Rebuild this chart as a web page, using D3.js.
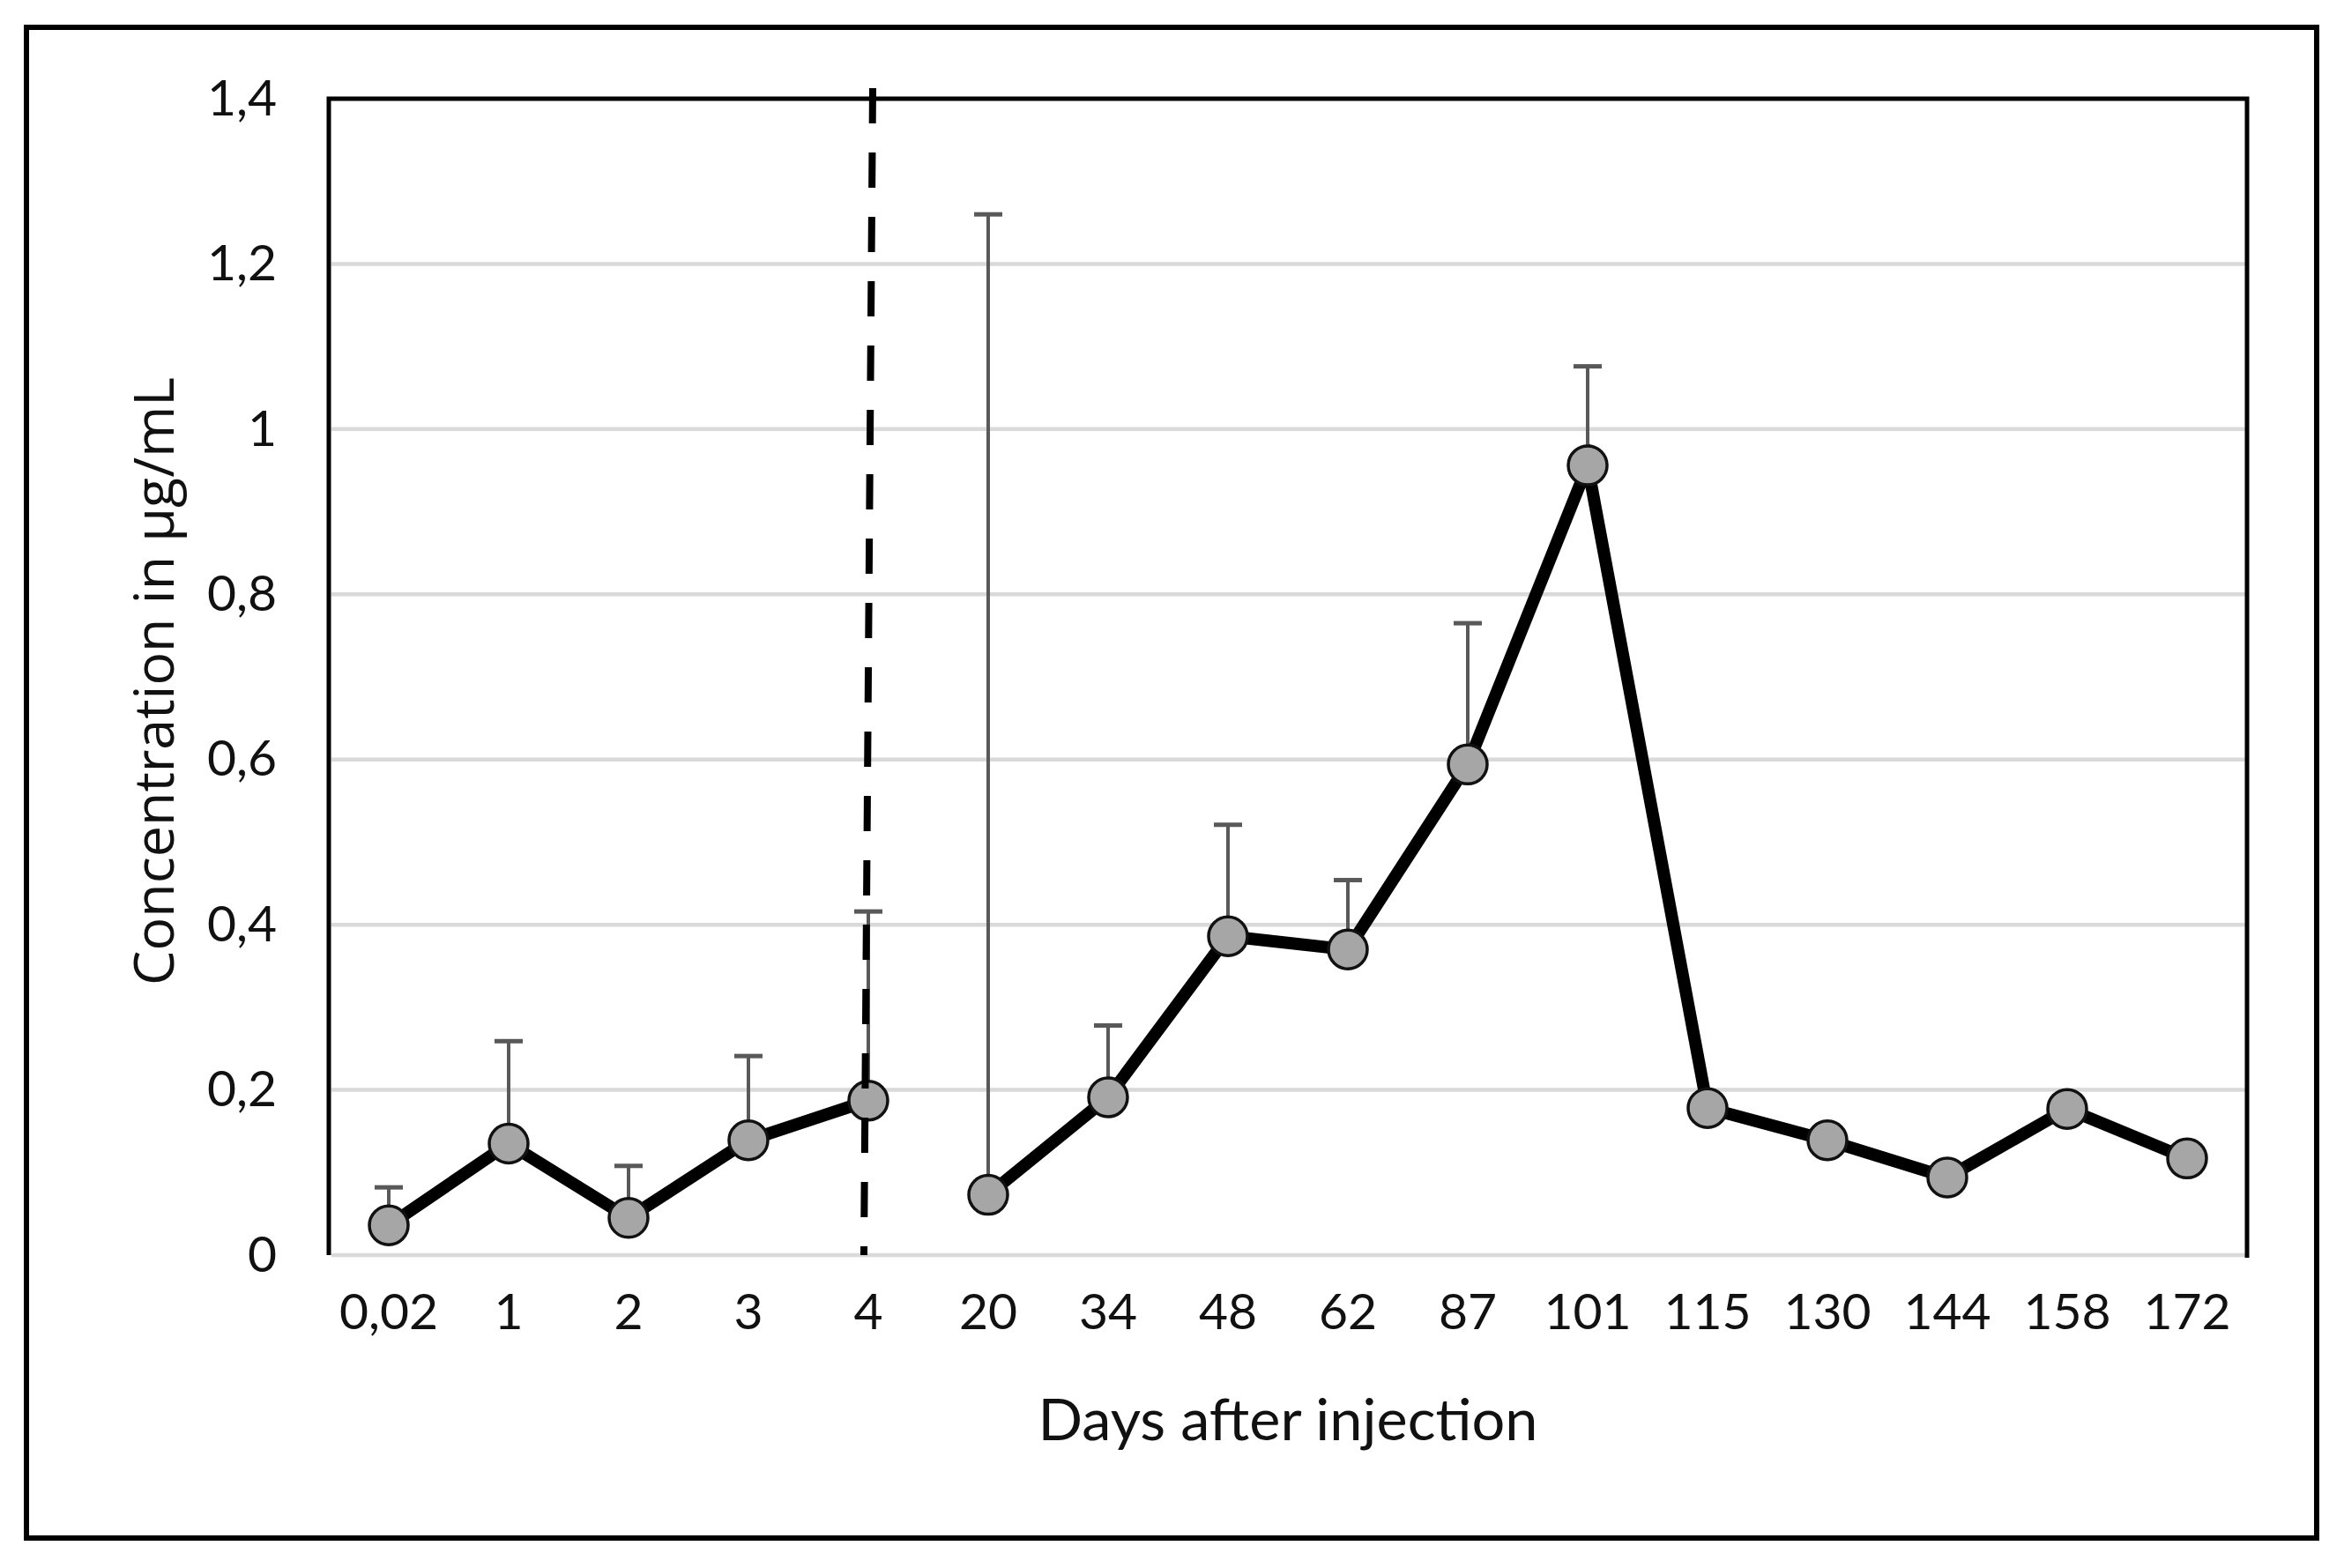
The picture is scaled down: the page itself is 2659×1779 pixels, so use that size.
<!DOCTYPE html>
<html>
<head>
<meta charset="utf-8">
<script src="https://cdn.jsdelivr.net/npm/d3@7"></script>
<style>
  html, body { margin: 0; padding: 0; background: #fff; }
  svg { display: block; }
</style>
</head>
<body>
<div id="chart"></div>
<script>
// days after injection (x categories) and mean concentration in ug/mL
var days = ["0,02", "1", "2", "3", "4", "20", "34", "48", "62", "87",
            "101", "115", "130", "144", "158", "172"];
var conc = [0.036, 0.135, 0.045, 0.139, 0.187, 0.073, 0.191, 0.386, 0.370, 0.594,
            0.956, 0.178, 0.139, 0.094, 0.177, 0.117];
// upper error bar (sd); null = no bar drawn
var errUp = [0.046, 0.124, 0.063, 0.102, 0.229, 1.187, 0.087, 0.135, 0.084, 0.171,
             0.120, null, null, null, null, null];
var yTicks = [0, 0.2, 0.4, 0.6, 0.8, 1, 1.2, 1.4];
var lastEarlyDay = "4";   // dashed separator + line break after this day

var W = 2659
  , H = 1779
  , plot = {left: 373, top: 112, right: 2549, bottom: 1424}
  , fmt = function(d) { return String(d).replace(".", ","); }
;

var x = d3.scaleBand()
    .domain(days)
    .range([plot.left, plot.right])
  , y = d3.scaleLinear()
    .domain([0, 1.4])
    .range([plot.bottom, plot.top])
  , cx = function(d) { return x(d) + x.bandwidth() / 2; }
;

var svg = d3.select("#chart")
  .append("svg")
    .attr("width", W)
    .attr("height", H)
;

// outer frame
svg.append("rect")
    .attr("x", 30)
    .attr("y", 31)
    .attr("width", 2598)
    .attr("height", 1714)
    .attr("fill", "none")
    .attr("stroke", "#000")
    .attr("stroke-width", 6)
;

// gridlines (1.4 is the plot top border)
svg.append("g")
  .selectAll("line")
    .data(yTicks.filter(function(d) { return d < 1.4; }))
  .enter()
  .append("line")
    .attr("x1", plot.left + 3)
    .attr("x2", plot.right)
    .attr("y1", function(d) { return y(d); })
    .attr("y2", function(d) { return y(d); })
    .attr("stroke", "#d9d9d9")
    .attr("stroke-width", 4.5)
;

// plot border: top, left, right
svg.append("path")
    .attr("d", "M" + plot.left + "," + plot.bottom + "V" + plot.top +
               "H" + plot.right + "V" + (plot.bottom + 3))
    .attr("fill", "none")
    .attr("stroke", "#000")
    .attr("stroke-width", 5)
;

// y axis labels
var yAxis = d3.axisLeft(y)
    .tickValues(yTicks)
    .tickFormat(fmt)
    .tickSize(0)
    .tickPadding(0)
;
svg.append("g")
    .attr("transform", "translate(314,0)")
    .call(yAxis)
    .call(function(g) { g.select(".domain").remove(); })
  .selectAll("text")
    .attr("font-family", "Lato")
    .attr("font-size", 57)
    .attr("fill", "#111")
;

// x axis labels
var xAxis = d3.axisBottom(x)
    .tickSize(0)
    .tickPadding(0)
;
svg.append("g")
    .attr("transform", "translate(0,1468)")
    .call(xAxis)
    .call(function(g) { g.select(".domain").remove(); })
  .selectAll("text")
    .attr("font-family", "Lato")
    .attr("font-size", 57)
    .attr("fill", "#111")
;

// error bars (upper only)
var bars = days
    .map(function(d, i) { return {day: d, v: conc[i], e: errUp[i]}; })
    .filter(function(d) { return d.e != null; })
;
var eb = svg.append("g")
    .attr("stroke", "#595959")
;
eb.selectAll(".stem")
    .data(bars)
  .enter()
  .append("line")
    .attr("class", "stem")
    .attr("x1", function(d) { return cx(d.day); })
    .attr("x2", function(d) { return cx(d.day); })
    .attr("y1", function(d) { return y(d.v); })
    .attr("y2", function(d) { return y(d.v + d.e); })
    .attr("stroke-width", 4)
;
eb.selectAll(".cap")
    .data(bars)
  .enter()
  .append("line")
    .attr("class", "cap")
    .attr("x1", function(d) { return cx(d.day) - 16; })
    .attr("x2", function(d) { return cx(d.day) + 16; })
    .attr("y1", function(d) { return y(d.v + d.e); })
    .attr("y2", function(d) { return y(d.v + d.e); })
    .attr("stroke-width", 5)
;

// line, broken between the early and late sampling phases
var pts = days.map(function(d, i) { return {day: d, v: conc[i]}; })
  , cut = days.indexOf(lastEarlyDay) + 1
  , line = d3.line()
      .x(function(d) { return cx(d.day); })
      .y(function(d) { return y(d.v); })
;
svg.append("g")
  .selectAll("path")
    .data([pts.slice(0, cut), pts.slice(cut)])
  .enter()
  .append("path")
    .attr("d", line)
    .attr("fill", "none")
    .attr("stroke", "#000")
    .attr("stroke-width", 14)
    .attr("stroke-linejoin", "miter")
;

// markers
svg.append("g")
  .selectAll("circle")
    .data(pts)
  .enter()
  .append("circle")
    .attr("cx", function(d) { return cx(d.day); })
    .attr("cy", function(d) { return y(d.v); })
    .attr("r", 22)
    .attr("fill", "#a6a6a6")
    .attr("stroke", "#111")
    .attr("stroke-width", 3.5)
;

// dashed separator at day 4 (slightly tilted, as drawn by hand)
svg.append("line")
    .attr("x1", cx(lastEarlyDay) + 5)
    .attr("x2", cx(lastEarlyDay) - 5)
    .attr("y1", plot.top - 12)
    .attr("y2", plot.bottom)
    .attr("stroke", "#000")
    .attr("stroke-width", 8)
    .attr("stroke-dasharray", "40,33")
;

// axis titles, sized to the reference text length
function fit(sel, len) {
    var fs = +sel.attr("font-size")
      , w = sel.node().getComputedTextLength()
    ;
    sel.attr("font-size", fs * len / w);
}
svg.append("text")
    .attr("x", (plot.left + plot.right) / 2)
    .attr("y", 1634)
    .attr("text-anchor", "middle")
    .attr("font-family", "Lato")
    .attr("font-size", 56)
    .attr("fill", "#111")
    .text("Days after injection")
    .call(fit, 567)
;
svg.append("text")
    .attr("transform", "translate(197,773) rotate(-90)")
    .attr("text-anchor", "middle")
    .attr("font-family", "Open Sans")
    .attr("font-size", 60)
    .attr("fill", "#111")
    .text("Concentration in µg/mL")
    .call(fit, 690)
;
</script>
</body>
</html>
